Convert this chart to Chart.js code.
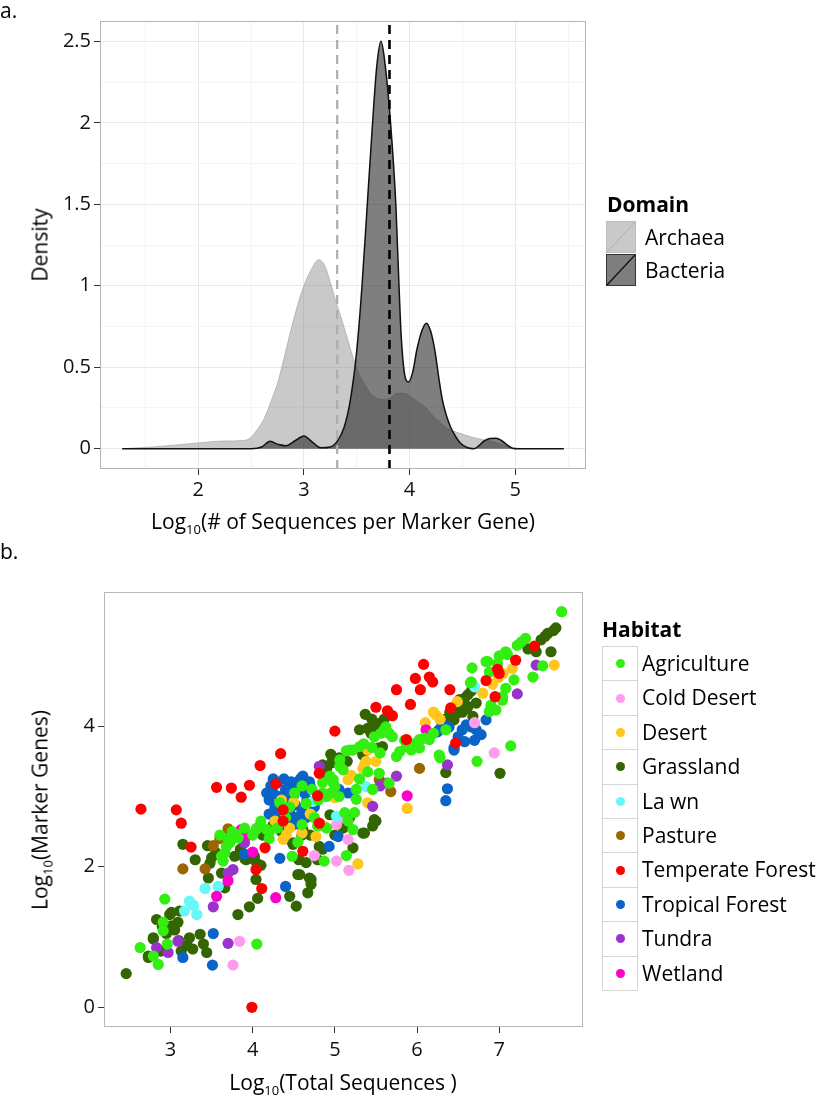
<!DOCTYPE html>
<html>
<head>
<meta charset="utf-8">
<title>Marker gene sequences by domain and habitat</title>
<script src="https://cdn.jsdelivr.net/npm/chart.js@4.4.1/dist/chart.umd.min.js"></script>
<style>
  html, body { margin: 0; padding: 0; background: #fff; }
  #page { position: relative; width: 821px; height: 1102px; overflow: hidden; font-family: 'Open Sans', sans-serif; color: #000; }
  #page canvas { position: absolute; left: 0; }
  .txt { position: absolute; font-size: 21px; line-height: 1; white-space: nowrap; }
  .center { transform: translate(-50%, -50%); }
  .rot { transform: translate(-50%, -50%) rotate(-90deg); }
  .bold { font-weight: 700; }
  sub { font-size: 13px; vertical-align: -5px; line-height: 0; }
  .key { position: absolute; box-sizing: border-box; border: 1px solid #d6d6d6; background: #fff; }
  .dot { position: absolute; width: 9px; height: 9px; border-radius: 50%; left: 50%; top: 50%; margin: -4.5px 0 0 -4.5px; }
</style>
</head>
<body>
<div id="page">
  <canvas id="densityCanvas" width="821" height="540" style="top:0"></canvas>
  <canvas id="scatterCanvas" width="821" height="562" style="top:540px"></canvas>

  <div class="txt" style="left:0;top:0">a.</div>
  <div class="txt" style="left:0;top:541px">b.</div>

  <div class="txt rot" style="left:40px;top:245px">Density</div>
  <div class="txt center" style="left:343px;top:521px">Log<sub>10</sub>(# of Sequences per Marker Gene)</div>
  <div class="txt rot" style="left:40px;top:810px">Log<sub>10</sub>(Marker Genes)</div>
  <div class="txt center" style="left:343px;top:1082px">Log<sub>10</sub>(Total Sequences )</div>

  <!-- domain legend -->
  <div class="txt bold" style="left:607px;top:194px">Domain</div>
  <svg style="position:absolute;left:606px;top:221px" width="31" height="66">
    <rect x="0.5" y="0.5" width="29" height="31" fill="#c9c9c9" stroke="#bdbdbd"/>
    <line x1="1" y1="31" x2="29" y2="1" stroke="#b2b2b2" stroke-width="1"/>
    <rect x="0.5" y="33.5" width="29" height="31" fill="#7e7e7e" stroke="#333"/>
    <line x1="1" y1="64" x2="29" y2="34" stroke="#111" stroke-width="1.3"/>
  </svg>
  <div class="txt" style="left:645px;top:227px">Archaea</div>
  <div class="txt" style="left:645px;top:260px">Bacteria</div>

  <!-- habitat legend -->
  <div class="txt bold" style="left:602px;top:619px">Habitat</div>
  <div id="habitatLegend"></div>
</div>

<script>
// ---- panel a: density of log10(# sequences per marker gene) ----
var archaeaX = [1.28, 1.60, 2.00, 2.24, 2.43, 2.50, 2.55, 2.62, 2.70, 2.75, 2.81, 2.87, 2.94, 3.00, 3.07,
  3.14, 3.20, 3.25, 3.30, 3.35, 3.41, 3.47, 3.52, 3.57, 3.63, 3.69, 3.76, 3.82, 3.88, 3.94,
  4.01, 4.07, 4.14, 4.21, 4.29, 4.37, 4.45, 4.61, 4.76, 4.85, 4.92, 5.00, 5.08, 5.46];
var archaeaY = [0, 0.012, 0.035, 0.047, 0.05, 0.07, 0.11, 0.18, 0.31, 0.40, 0.55, 0.71, 0.88, 1.0, 1.10,
  1.16, 1.12, 1.02, 0.91, 0.81, 0.68, 0.55, 0.46, 0.40, 0.34, 0.31, 0.30, 0.31, 0.34, 0.34,
  0.32, 0.29, 0.26, 0.21, 0.16, 0.12, 0.10, 0.067, 0.047, 0.03, 0.016, 0.005, 0, 0];

var bacteriaX = [1.28, 2.50, 2.60, 2.68, 2.76, 2.83, 2.92, 3.00, 3.08, 3.16, 3.25, 3.31, 3.38, 3.44, 3.50,
  3.55, 3.60, 3.65, 3.69, 3.73, 3.77, 3.82, 3.87, 3.90, 3.92, 3.95, 3.99, 4.03, 4.07, 4.12,
  4.16, 4.20, 4.24, 4.28, 4.31, 4.35, 4.39, 4.44, 4.48, 4.55, 4.61, 4.66, 4.70, 4.76, 4.82,
  4.87, 4.92, 4.97, 5.00, 5.46];
var bacteriaY = [0, 0, 0.01, 0.045, 0.025, 0.018, 0.05, 0.078, 0.04, 0.005, 0.01, 0.04, 0.13, 0.30, 0.60,
  1.0, 1.5, 2.0, 2.35, 2.50, 2.35, 2.0, 1.5, 1.0, 0.7, 0.47, 0.41, 0.47, 0.61, 0.73,
  0.77, 0.72, 0.60, 0.42, 0.30, 0.20, 0.13, 0.07, 0.035, 0.005, 0, 0.02, 0.045, 0.062, 0.064,
  0.05, 0.025, 0.003, 0, 0];

// dashed lines = medians of each domain
var archaeaMedian = 3.315;
var bacteriaMedian = 3.81;

var densityXMajor = [2, 3, 4, 5];
var densityXMinor = [1.5, 2.5, 3.5, 4.5, 5.5];
var densityYMajor = [0, 0.5, 1, 1.5, 2, 2.5];
var densityYMinor = [0.25, 0.75, 1.25, 1.75, 2.25];
var densityXRange = [1.07, 5.67];
var densityYRange = [-0.125, 2.625];

// ---- panel b: marker genes vs total sequences, by habitat ----
var habitats = ['Agriculture', 'Cold Desert', 'Desert', 'Grassland', 'La wn', 'Pasture',
  'Temperate Forest', 'Tropical Forest', 'Tundra', 'Wetland'];
var habitatColors = ['#33ee11', '#ff9cee', '#ffc61e', '#336600', '#66f8f8', '#996600',
  '#ff0000', '#0a64c8', '#9933cc', '#ff00cc'];

var agriculture = [[7.76, 5.63], [7.53, 4.86], [7.41, 4.70], [7.32, 5.25], [7.27, 5.20], [7.22, 5.15], [7.18, 4.66],
  [7.14, 3.72], [7.10, 5.02], [7.08, 5.06], [7.08, 4.54], [7.04, 4.42], [7.04, 4.37], [7.00, 5.00], [6.98, 4.89],
  [6.96, 4.23], [6.90, 4.30], [6.88, 4.77], [6.88, 4.21], [6.86, 4.92], [6.84, 4.92], [6.73, 3.50], [6.67, 4.83],
  [6.66, 4.63], [6.65, 4.62], [6.35, 3.95], [6.28, 3.55], [6.27, 3.59], [6.20, 3.90], [6.15, 3.81], [6.09, 3.83],
  [6.03, 3.81], [6.03, 3.69], [5.95, 3.75], [5.93, 3.66], [5.87, 3.71], [5.85, 3.80], [5.79, 3.64], [5.75, 3.57],
  [5.70, 3.85], [5.66, 3.90], [5.66, 3.19], [5.62, 3.99], [5.60, 3.95], [5.56, 3.90], [5.55, 3.62], [5.54, 3.33],
  [5.48, 3.85], [5.46, 3.10], [5.45, 3.70], [5.40, 3.35], [5.35, 3.75], [5.30, 3.71], [5.30, 3.25], [5.26, 3.10],
  [5.26, 2.96], [5.24, 2.77], [5.22, 3.66], [5.22, 2.53], [5.18, 3.66], [5.16, 2.65], [5.14, 3.65], [5.14, 2.16],
  [5.12, 2.77], [5.10, 3.38], [5.06, 3.52], [5.06, 3.43], [5.05, 3.00], [5.00, 3.14], [4.98, 3.24], [4.98, 3.19],
  [4.95, 3.05], [4.94, 3.29], [4.90, 3.00], [4.90, 2.55], [4.87, 2.08], [4.85, 3.20], [4.85, 3.05], [4.80, 2.95],
  [4.79, 2.58], [4.75, 2.70], [4.72, 3.10], [4.65, 2.90], [4.60, 3.15], [4.60, 2.60], [4.55, 2.35], [4.51, 3.05],
  [4.48, 2.15], [4.45, 2.85], [4.40, 2.70], [4.33, 2.91], [4.30, 2.55], [4.20, 2.50], [4.20, 2.40], [4.17, 2.53],
  [4.10, 2.65], [4.06, 2.55], [4.05, 2.55], [4.05, 0.90], [4.04, 2.53], [4.00, 2.45], [3.90, 2.55], [3.82, 2.41],
  [3.80, 2.46], [3.75, 2.50], [3.72, 2.34], [3.70, 2.40], [3.68, 2.29], [3.66, 2.20], [3.64, 2.08], [3.62, 2.15],
  [3.60, 2.45], [2.96, 0.90], [2.93, 1.54], [2.91, 1.21], [2.91, 1.09], [2.85, 0.61], [2.79, 0.73], [2.63, 0.85]];

var coldDesert = [[6.94, 3.62], [6.70, 4.05], [5.17, 1.95], [5.16, 2.39], [5.10, 2.70], [5.02, 2.60], [5.02, 2.08],
  [4.75, 2.16], [3.84, 0.94], [3.76, 0.60]];

var desert = [[7.67, 4.87], [7.16, 4.82], [7.05, 4.75], [6.99, 4.69], [6.92, 4.60], [6.80, 4.47], [6.49, 4.35],
  [6.28, 4.10], [6.23, 4.16], [6.20, 4.20], [6.10, 4.05], [5.88, 2.83], [5.50, 3.50], [5.40, 3.66], [5.40, 2.91],
  [5.38, 3.50], [5.36, 3.45], [5.34, 3.40], [5.28, 2.04], [5.20, 3.30], [5.16, 3.24], [5.00, 2.98], [4.87, 2.58],
  [4.85, 2.58], [4.77, 2.43], [4.70, 2.75], [4.60, 2.48], [4.50, 2.92], [4.45, 2.55], [4.41, 2.46], [4.37, 2.39],
  [4.35, 2.95], [4.27, 2.65]];

var grassland = [[7.69, 5.40], [7.66, 5.36], [7.63, 5.06], [7.59, 5.32], [7.56, 5.28], [7.51, 5.23], [7.45, 5.06],
  [7.35, 5.10], [7.01, 3.33], [6.72, 4.33], [6.68, 4.14], [6.66, 4.50], [6.62, 4.45], [6.62, 4.28], [6.60, 4.25],
  [6.58, 4.40], [6.55, 4.20], [6.52, 4.38], [6.50, 4.30], [6.48, 4.18], [6.45, 4.09], [6.40, 4.20], [6.35, 4.10],
  [6.35, 3.34], [5.62, 3.95], [5.60, 4.10], [5.58, 3.71], [5.54, 4.04], [5.52, 3.99], [5.52, 3.69], [5.50, 4.02],
  [5.50, 2.65], [5.48, 2.67], [5.46, 2.58], [5.45, 4.10], [5.44, 3.90], [5.40, 3.97], [5.37, 4.17], [5.36, 2.48],
  [5.34, 3.62], [5.34, 3.59], [5.34, 2.48], [5.30, 3.95], [5.22, 2.27], [5.18, 2.70], [5.15, 3.50], [5.10, 2.55],
  [5.05, 3.55], [5.00, 2.45], [4.98, 3.50], [4.96, 3.48], [4.95, 3.60], [4.94, 2.74], [4.90, 3.40], [4.90, 3.33],
  [4.85, 3.45], [4.85, 2.25], [4.81, 2.29], [4.79, 2.10], [4.71, 1.82], [4.71, 1.75], [4.70, 2.45], [4.69, 1.84],
  [4.67, 1.63], [4.65, 2.06], [4.63, 2.72], [4.61, 2.53], [4.60, 2.45], [4.57, 1.89], [4.56, 2.10], [4.55, 2.65],
  [4.55, 1.89], [4.53, 1.44], [4.49, 2.34], [4.49, 2.32], [4.48, 2.60], [4.45, 2.77], [4.45, 1.58], [4.40, 2.40],
  [4.35, 2.50], [4.25, 2.60], [4.12, 2.45], [4.10, 2.02], [4.06, 1.55], [4.05, 2.05], [4.04, 1.82], [4.02, 2.15],
  [4.02, 2.10], [3.96, 1.43], [3.92, 2.10], [3.90, 2.12], [3.85, 2.25], [3.82, 1.32], [3.78, 2.15], [3.66, 1.70],
  [3.62, 1.91], [3.55, 2.20], [3.50, 2.13], [3.48, 2.05], [3.46, 1.84], [3.45, 2.30], [3.44, 0.78], [3.40, 0.90],
  [3.36, 1.04], [3.30, 2.10], [3.27, 0.83], [3.23, 0.99], [3.20, 0.88], [3.15, 2.32], [3.13, 0.80], [3.11, 1.37],
  [3.10, 0.95], [3.09, 1.21], [3.05, 1.10], [3.01, 1.35], [3.01, 1.16], [2.99, 1.32], [2.95, 1.05], [2.90, 1.15],
  [2.88, 0.80], [2.83, 1.25], [2.79, 0.99], [2.79, 0.97], [2.73, 0.73], [2.73, 0.71], [2.46, 0.48]];

var lawn = [[6.70, 4.56], [5.38, 3.14], [5.02, 2.72], [4.73, 2.93], [3.58, 1.72], [3.42, 1.69], [3.32, 1.32],
  [3.28, 1.45], [3.23, 1.51], [3.17, 1.37]];

var pasture = [[6.03, 3.40], [5.68, 3.07], [5.54, 3.24], [3.70, 2.54], [3.60, 2.40], [3.52, 2.30], [3.42, 1.97],
  [3.15, 1.97]];

var temperateForest = [[7.43, 5.14], [7.20, 4.94], [7.00, 4.75], [6.98, 4.81], [6.95, 4.42], [6.84, 4.65],
  [6.47, 3.76], [6.41, 4.26], [6.40, 4.52], [6.19, 4.63], [6.15, 4.70], [6.08, 4.88], [6.04, 4.52], [5.98, 4.68],
  [5.92, 4.31], [5.87, 3.81], [5.75, 4.52], [5.70, 4.15], [5.64, 4.22], [5.50, 4.27], [5.00, 3.93], [4.81, 3.33],
  [4.81, 2.62], [4.79, 3.01], [4.61, 2.22], [4.37, 2.81], [4.37, 2.65], [4.34, 3.61], [4.28, 3.18], [4.15, 2.27],
  [4.11, 1.69], [4.09, 3.44], [4.04, 1.96], [3.99, 0.00], [3.96, 3.16], [3.86, 2.99], [3.74, 3.12], [3.56, 3.13],
  [3.25, 2.28], [3.13, 2.62], [3.07, 2.81], [2.64, 2.82]];

var tropicalForest = [[6.84, 4.09], [6.78, 3.88], [6.72, 3.95], [6.70, 3.80], [6.66, 3.99], [6.60, 4.02],
  [6.58, 3.78], [6.55, 3.95], [6.50, 3.85], [6.45, 3.69], [6.45, 3.66], [6.39, 3.99], [6.37, 3.11], [6.35, 2.94],
  [6.31, 3.99], [6.30, 4.05], [6.27, 3.95], [6.25, 3.92], [5.22, 3.05], [5.16, 3.05], [5.05, 3.10], [5.04, 2.43],
  [4.93, 2.29], [4.80, 3.00], [4.75, 2.85], [4.70, 3.15], [4.69, 3.21], [4.66, 2.95], [4.65, 2.70], [4.63, 3.05],
  [4.61, 3.29], [4.60, 2.78], [4.58, 3.25], [4.55, 3.12], [4.53, 2.70], [4.52, 2.88], [4.50, 3.02], [4.50, 2.60],
  [4.47, 3.21], [4.45, 3.18], [4.44, 2.80], [4.42, 2.95], [4.40, 3.10], [4.40, 1.72], [4.38, 3.25], [4.36, 2.78],
  [4.35, 2.90], [4.33, 3.00], [4.33, 2.12], [4.30, 3.20], [4.30, 2.65], [4.28, 2.72], [4.27, 2.85], [4.25, 3.25],
  [4.25, 3.05], [4.22, 3.15], [4.20, 2.95], [4.20, 2.75], [4.17, 3.05], [3.90, 2.18], [3.52, 1.05], [3.51, 0.60],
  [3.15, 0.71]];

var tundra = [[7.45, 4.87], [7.22, 4.46], [6.37, 3.45], [5.75, 3.29], [5.64, 3.19], [5.55, 3.15], [5.46, 2.86],
  [4.81, 3.43], [3.90, 2.34], [3.76, 1.96], [3.70, 1.91], [3.70, 0.91], [3.52, 1.43], [3.09, 0.94], [2.97, 0.78],
  [2.83, 0.85]];

var wetland = [[6.11, 3.95], [5.88, 3.01], [4.28, 1.56], [4.00, 2.21], [3.95, 2.45], [3.86, 2.53], [3.70, 1.80],
  [3.56, 1.58]];

var scatterXTicks = [3, 4, 5, 6, 7];
var scatterYTicks = [0, 2, 4];
var scatterXRange = [2.19, 8.02];
var scatterYRange = [-0.28, 5.91];

var habitatSeries = [agriculture, coldDesert, desert, grassland, lawn, pasture,
  temperateForest, tropicalForest, tundra, wetland];
// lower number = drawn later (on top)
var habitatDrawOrder = [2, 6, 8, 10, 5, 7, 1, 9, 4, 3];

Chart.defaults.font.family = "'Open Sans', sans-serif";
Chart.defaults.font.size = 20;
Chart.defaults.color = '#111';

function toXY(xs, ys) {
  return xs.map(function (x, i) { return { x: x, y: ys[i] }; });
}

function pairsToXY(list) {
  return list.map(function (p) { return { x: p[0], y: p[1] }; });
}

function fixedTicks(values) {
  return function (scale) {
    scale.ticks = values.map(function (v) { return { value: v }; });
  };
}

function isMajor(list, v) {
  return list.some(function (m) { return Math.abs(m - v) < 1e-9; });
}

// grey frame around the plotting panel (like ggplot panel.border)
var panelBorder = {
  id: 'panelBorder',
  afterDraw: function (chart, args, opts) {
    var a = chart.chartArea;
    var ctx = chart.ctx;
    ctx.save();
    ctx.strokeStyle = opts.color || '#b3b3b3';
    ctx.lineWidth = 1;
    ctx.strokeRect(a.left + 0.5, a.top + 0.5, a.right - a.left - 1, a.bottom - a.top - 1);
    ctx.restore();
  }
};

// ---------- density chart ----------
var densityXAll = densityXMinor.concat(densityXMajor).sort(function (a, b) { return a - b; });
var densityYAll = densityYMinor.concat(densityYMajor).sort(function (a, b) { return a - b; });

new Chart(document.getElementById('densityCanvas'), {
  type: 'line',
  data: {
    datasets: [
      {
        label: 'Archaea median',
        data: toXY([archaeaMedian, archaeaMedian], densityYRange),
        borderColor: '#adadad',
        borderWidth: 2.2,
        borderDash: [9, 6],
        pointRadius: 0,
        fill: false,
        order: 0
      },
      {
        label: 'Bacteria median',
        data: toXY([bacteriaMedian, bacteriaMedian], densityYRange),
        borderColor: '#000',
        borderWidth: 2.6,
        borderDash: [9, 6],
        pointRadius: 0,
        fill: false,
        order: 0
      },
      {
        label: 'Bacteria',
        data: toXY(bacteriaX, bacteriaY),
        borderColor: '#111',
        borderWidth: 1.5,
        backgroundColor: 'rgba(45,45,45,0.61)',
        fill: 'origin',
        pointRadius: 0,
        cubicInterpolationMode: 'monotone',
        order: 1
      },
      {
        label: 'Archaea',
        data: toXY(archaeaX, archaeaY),
        borderColor: 'rgba(150,150,150,0.55)',
        borderWidth: 1,
        backgroundColor: 'rgba(120,120,120,0.4)',
        fill: 'origin',
        pointRadius: 0,
        cubicInterpolationMode: 'monotone',
        order: 2
      }
    ]
  },
  options: {
    responsive: false,
    animation: false,
    devicePixelRatio: 1,
    layout: { padding: { top: 21, right: 235, left: 0, bottom: 0 } },
    plugins: {
      legend: { display: false },
      tooltip: { enabled: false },
      panelBorder: { color: '#b3b3b3' }
    },
    scales: {
      x: {
        type: 'linear',
        min: densityXRange[0],
        max: densityXRange[1],
        afterBuildTicks: fixedTicks(densityXAll),
        afterFit: function (scale) { scale.height = 71; },
        border: { display: false },
        grid: {
          color: function (c) { return isMajor(densityXMajor, c.tick.value) ? '#e8e8e8' : '#f4f4f4'; },
          tickColor: function (c) { return isMajor(densityXMajor, c.tick.value) ? '#333' : 'rgba(0,0,0,0)'; },
          tickLength: 6
        },
        ticks: {
          padding: 3,
          maxRotation: 0,
          callback: function (v) { return isMajor(densityXMajor, v) ? String(v) : ''; }
        }
      },
      y: {
        type: 'linear',
        min: densityYRange[0],
        max: densityYRange[1],
        afterBuildTicks: fixedTicks(densityYAll),
        afterFit: function (scale) { scale.width = 100; },
        border: { display: false },
        grid: {
          color: function (c) { return isMajor(densityYMajor, c.tick.value) ? '#e8e8e8' : '#f4f4f4'; },
          tickColor: function (c) { return isMajor(densityYMajor, c.tick.value) ? '#333' : 'rgba(0,0,0,0)'; },
          tickLength: 6
        },
        ticks: {
          padding: 3,
          callback: function (v) { return isMajor(densityYMajor, v) ? String(v) : ''; }
        }
      }
    }
  },
  plugins: [panelBorder]
});

// ---------- scatter chart ----------
var scatterDatasets = habitats.map(function (name, i) {
  return {
    label: name,
    data: pairsToXY(habitatSeries[i]),
    backgroundColor: habitatColors[i],
    borderWidth: 0,
    pointRadius: 5.6,
    pointHoverRadius: 5.6,
    order: habitatDrawOrder[i]
  };
});

new Chart(document.getElementById('scatterCanvas'), {
  type: 'scatter',
  data: { datasets: scatterDatasets },
  options: {
    responsive: false,
    animation: false,
    devicePixelRatio: 1,
    layout: { padding: { top: 52, right: 238, left: 0, bottom: 0 } },
    plugins: {
      legend: { display: false },
      tooltip: { enabled: false },
      panelBorder: { color: '#b8b8b8' }
    },
    scales: {
      x: {
        type: 'linear',
        min: scatterXRange[0],
        max: scatterXRange[1],
        afterBuildTicks: fixedTicks(scatterXTicks),
        afterFit: function (scale) { scale.height = 75; },
        border: { display: false },
        grid: { drawOnChartArea: false, tickColor: '#333', tickLength: 6 },
        ticks: { padding: 5, maxRotation: 0 }
      },
      y: {
        type: 'linear',
        min: scatterYRange[0],
        max: scatterYRange[1],
        afterBuildTicks: fixedTicks(scatterYTicks),
        afterFit: function (scale) { scale.width = 104; },
        border: { display: false },
        grid: { drawOnChartArea: false, tickColor: '#333', tickLength: 6 },
        ticks: { padding: 3 }
      }
    }
  },
  plugins: [panelBorder]
});

// ---------- habitat legend (boxed keys like the original) ----------
var legendBox = document.getElementById('habitatLegend');
var rowTop = 646;
var rowH = 34.4;
habitats.forEach(function (name, i) {
  var key = document.createElement('div');
  key.className = 'key';
  key.style.left = '602px';
  key.style.top = (rowTop + i * rowH) + 'px';
  key.style.width = '36px';
  key.style.height = (rowH + 1) + 'px';
  var dot = document.createElement('div');
  dot.className = 'dot';
  dot.style.background = habitatColors[i];
  key.appendChild(dot);
  legendBox.appendChild(key);

  var label = document.createElement('div');
  label.className = 'txt';
  label.style.left = '642px';
  label.style.top = (rowTop + i * rowH) + 'px';
  label.style.height = rowH + 'px';
  label.style.lineHeight = rowH + 'px';
  label.textContent = name;
  legendBox.appendChild(label);
});
</script>
</body>
</html>
